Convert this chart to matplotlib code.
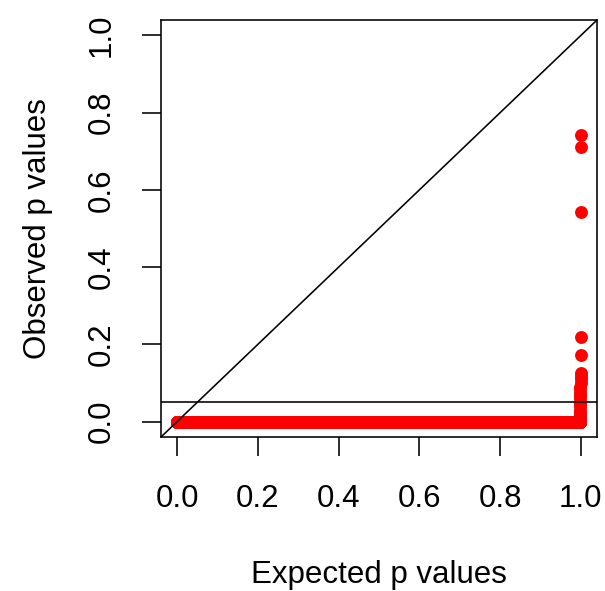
import numpy as np
import matplotlib
matplotlib.use("Agg")
import matplotlib.pyplot as plt

plt.rcParams['font.family'] = ['Liberation Sans', 'DejaVu Sans']

# Data
n_tests = 10000
tail_observed = [0.005, 0.01, 0.015, 0.02, 0.025, 0.03, 0.04, 0.045, 0.05,
                 0.06, 0.068, 0.075, 0.085, 0.09, 0.10, 0.11, 0.118, 0.127,
                 0.172, 0.2195, 0.5435, 0.710, 0.743]
expected = (np.arange(1, n_tests + 1) - 0.5) / n_tests
observed = np.concatenate([np.zeros(n_tests - len(tail_observed)),
                           np.sort(tail_observed)])
threshold = 0.05
ticks = [0.0, 0.2, 0.4, 0.6, 0.8, 1.0]
tick_labels = ["0.0", "0.2", "0.4", "0.6", "0.8", "1.0"]

fig = plt.figure(figsize=(6.05, 5.91), dpi=100)
ax = fig.add_axes([161/605, 1 - 437/591, (597-161)/605, (437-20)/591])

ax.plot(expected, observed, 'o', color='#ff0000', markersize=9.3,
        markeredgewidth=0, zorder=2)
ax.axline((0, 0), slope=1, color='black', lw=1.15, zorder=3)
ax.axhline(threshold, color='black', lw=1.15, zorder=3)

ax.set_xlim(-0.04, 1.04)
ax.set_ylim(-0.04, 1.04)
ax.set_xticks(ticks)
ax.set_xticklabels(tick_labels)
ax.set_yticks(ticks)
ax.set_yticklabels(tick_labels, rotation=90, va='center')
ax.tick_params(axis='both', direction='out', length=14, width=1.15,
               labelsize=22.5, pad=20)
ax.tick_params(axis='y', pad=18)
for s in ax.spines.values():
    s.set_linewidth(1.15)

ax.set_xlabel("Expected p values", fontsize=22.5, labelpad=33)
ax.set_ylabel("Observed p values", fontsize=22.5, labelpad=24)

fig.savefig("out.png", dpi=100)
